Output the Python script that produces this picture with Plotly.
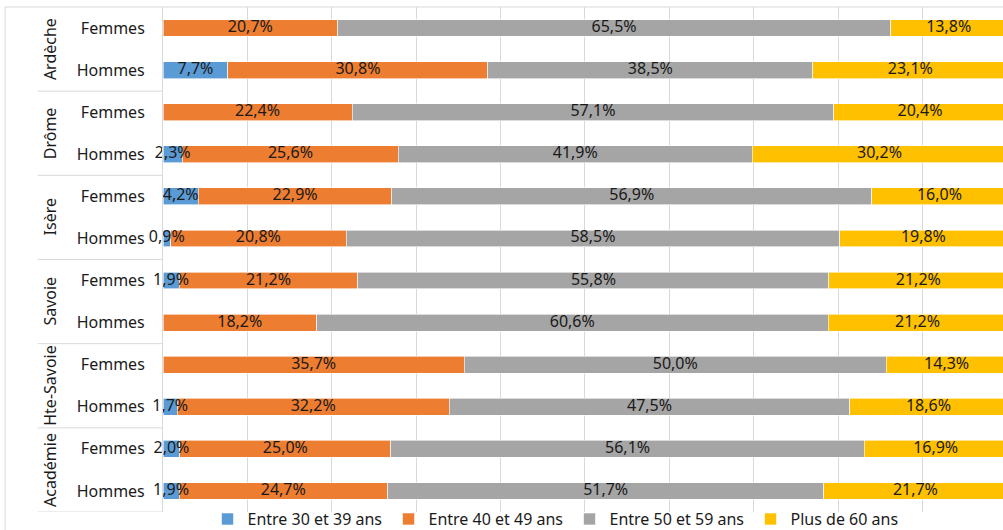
import plotly.graph_objects as go

# Departments (group labels) and sexes (row labels), top to bottom
groups = ["Ardèche", "Drôme", "Isère", "Savoie", "Hte-Savoie", "Académie"]
sexes = ["Femmes", "Hommes"]

# Age-band shares in % for each row (Femmes then Hommes inside each group)
age_30_39 = [0.0, 7.7, 0.0, 2.3, 4.2, 0.9, 1.9, 0.0, 0.0, 1.7, 2.0, 1.9]
age_40_49 = [20.7, 30.8, 22.4, 25.6, 22.9, 20.8, 21.2, 18.2, 35.7, 32.2, 25.0, 24.7]
age_50_59 = [65.5, 38.5, 57.1, 41.9, 56.9, 58.5, 55.8, 60.6, 50.0, 47.5, 56.1, 51.7]
age_60_plus = [13.8, 23.1, 20.4, 30.2, 16.0, 19.8, 21.2, 21.2, 14.3, 18.6, 16.9, 21.7]

series_names = ["Entre 30 et 39 ans", "Entre 40 et 49 ans", "Entre 50 et 59 ans", "Plus de 60 ans"]
series_values = [age_30_39, age_40_49, age_50_59, age_60_plus]
series_colors = ["#5B9BD5", "#ED7D31", "#A5A5A5", "#FFC000"]

FONT = "Noto Sans"
TEXT = "#1a1a1a"
GRID = "#D9D9D9"

row_keys = [f"{g}|{s}" for g in groups for s in sexes]
row_labels = [s for g in groups for s in sexes]


def fmt(v):
    return f"{v:.1f}".replace(".", ",") + "%"


fig = go.Figure()
for name, vals, col in zip(series_names, series_values, series_colors):
    fig.add_trace(go.Bar(
        y=row_keys,
        x=[v / 100 if v else None for v in vals],
        orientation="h",
        name=name,
        marker=dict(color=col, line=dict(color="white", width=0.6)),
        textposition="none",
        cliponaxis=False,
        hoverinfo="skip",
    ))

# value labels centred on each segment, drawn above every bar
lab_x, lab_y, lab_t = [], [], []
for i, key in enumerate(row_keys):
    start = 0.0
    for vals in series_values:
        v = vals[i]
        if v:
            lab_x.append((start + v / 2) / 100)
            lab_y.append(key)
            lab_t.append(fmt(v))
        start += v
fig.add_trace(go.Scatter(
    x=lab_x, y=lab_y, text=lab_t, mode="text",
    textposition="middle center",
    textfont=dict(family=FONT, size=16, color=TEXT),
    cliponaxis=False, showlegend=False, hoverinfo="skip",
))

shapes = []
# outer frame: top border and left border
shapes.append(dict(type="line", xref="paper", yref="paper", x0=-0.188, x1=1.0, y0=1, y1=1,
                   line=dict(color=GRID, width=1)))
shapes.append(dict(type="line", xref="paper", yref="paper", x0=-0.188, x1=-0.188, y0=1, y1=-0.04,
                   line=dict(color=GRID, width=1)))
# separators between department groups in the category area
for k in range(len(groups)):
    yb = 2 * k + 1.5
    shapes.append(dict(type="line", xref="paper", yref="y", x0=-0.149, x1=0.0, y0=yb, y1=yb,
                       line=dict(color=GRID, width=1)))

annotations = []
for k, g in enumerate(groups):
    annotations.append(dict(
        x=-0.1345, xref="paper", y=2 * k + 0.5, yref="y",
        text=g, textangle=-90, showarrow=False,
        xanchor="center", yanchor="middle",
        font=dict(family=FONT, size=16, color=TEXT),
    ))

fig.update_layout(
    width=1003, height=530,
    margin=dict(l=163, r=0, t=7, b=18, autoexpand=False),
    paper_bgcolor="white", plot_bgcolor="white",
    barmode="stack", bargap=0.6,
    font=dict(family=FONT, size=16, color=TEXT),
    showlegend=True,
    legend=dict(
        orientation="h", x=0.053, xanchor="left", y=-0.014, yanchor="middle",
        font=dict(family=FONT, size=16, color=TEXT),
        entrywidth=136, entrywidthmode="pixels",
        itemwidth=30, traceorder="normal",
        bgcolor="rgba(0,0,0,0)",
    ),
    shapes=shapes,
    annotations=annotations,
)
fig.update_xaxes(
    range=[0, 0.9953], dtick=0.1, showgrid=True, gridcolor=GRID, gridwidth=1,
    showticklabels=False, zeroline=False, showline=False, fixedrange=True,
)
fig.update_yaxes(
    type="category", categoryorder="array", categoryarray=row_keys,
    tickmode="array", tickvals=row_keys, ticktext=row_labels,
    range=[len(row_keys) - 0.5, -0.5], showgrid=False, showline=True, linecolor=GRID, linewidth=1,
    ticks="", ticklabelstandoff=14, tickfont=dict(family=FONT, size=16, color=TEXT),
    fixedrange=True,
)

fig.write_html("out.html")
